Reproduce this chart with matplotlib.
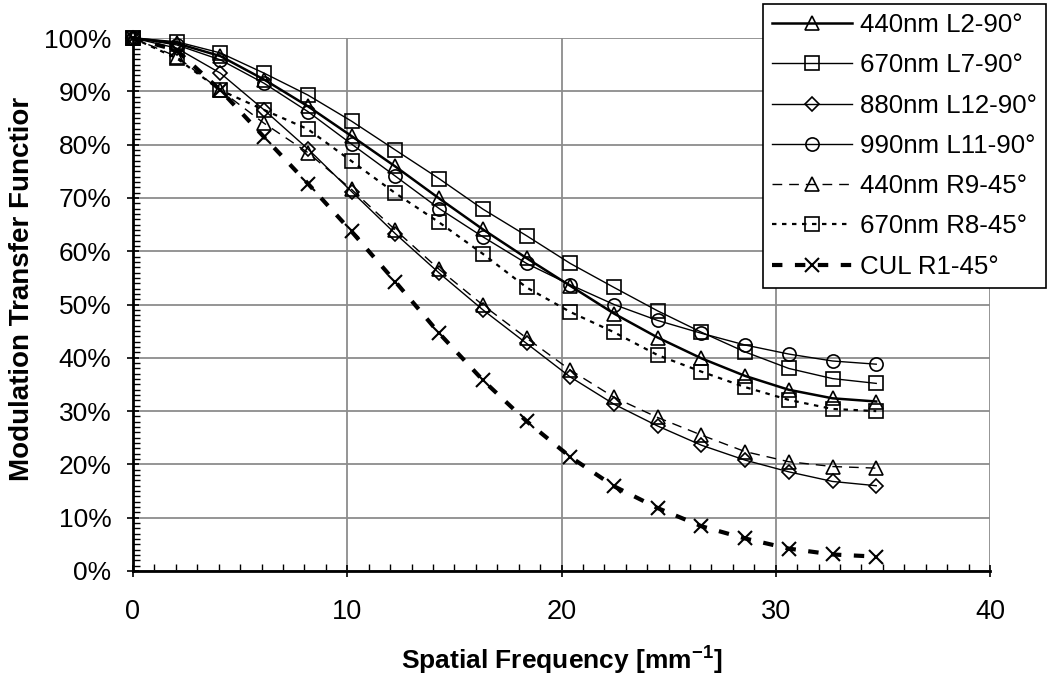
import numpy as np
import matplotlib
matplotlib.use("Agg")
from matplotlib import pyplot as plt
from matplotlib.ticker import MultipleLocator, PercentFormatter

plt.rcParams['font.family'] = ['Liberation Sans', 'DejaVu Sans']

# spatial frequency [1/mm]
freq = [0, 2.04, 4.08, 6.12, 8.16, 10.2, 12.24, 14.29, 16.33, 18.37,
        20.41, 22.45, 24.49, 26.53, 28.57, 30.61, 32.65, 34.69]

# MTF values in percent
mtf_440_L2 = [100, 99.0, 96.6, 92.2, 87.2, 81.6, 75.9, 69.9, 64.1, 58.7,
              53.5, 48.3, 43.8, 39.9, 36.6, 34.0, 32.4, 31.8]
mtf_670_L7 = [100, 99.3, 97.2, 93.4, 89.3, 84.4, 79.0, 73.6, 67.9, 62.9,
              57.7, 53.2, 48.8, 44.8, 41.1, 38.0, 36.1, 35.2]
mtf_880_L12 = [100, 98.1, 93.4, 86.5, 79.2, 71.2, 63.3, 55.9, 49.0, 42.7,
               36.4, 31.3, 27.2, 23.6, 20.8, 18.6, 16.8, 16.0]
mtf_990_L11 = [100, 98.7, 95.9, 91.5, 86.2, 80.1, 74.1, 68.0, 62.7, 57.7,
               53.7, 50.0, 47.0, 44.6, 42.4, 40.7, 39.4, 38.8]
mtf_440_R9 = [100, 96.5, 90.2, 84.0, 78.5, 71.6, 64.0, 56.6, 49.9, 43.7,
              37.7, 32.6, 28.8, 25.5, 22.4, 20.5, 19.6, 19.3]
mtf_670_R8 = [100, 96.2, 90.2, 86.5, 82.9, 76.9, 70.9, 65.4, 59.5, 53.2,
              48.6, 44.8, 40.5, 37.4, 34.5, 32.1, 30.4, 30.0]
mtf_cul_R1 = [100, 97.7, 90.2, 81.4, 72.7, 63.7, 54.3, 44.6, 35.8, 28.1,
              21.4, 15.9, 11.8, 8.4, 6.1, 4.2, 3.1, 2.7]

labels = ['440nm L2-90°', '670nm L7-90°', '880nm L12-90°', '990nm L11-90°',
          '440nm R9-45°', '670nm R8-45°', 'CUL R1-45°']

fig = plt.figure(figsize=(10.5, 6.76), dpi=100)
ax = fig.add_axes([133/1050, 1 - 571/676, (990-133)/1050, (571-38)/676])

common = dict(color='black', markerfacecolor='none', markeredgecolor='black',
              clip_on=False, zorder=3)
ax.plot(freq, mtf_440_L2, '-', marker='^', lw=1.8, ms=9.5, mew=1.2, label=labels[0], **common)
ax.plot(freq, mtf_670_L7, '-', marker='s', lw=1.0, ms=9.5, mew=1.2, label=labels[1], **common)
ax.plot(freq, mtf_880_L12, '-', marker='D', lw=1.0, ms=7.5, mew=1.2, label=labels[2], **common)
ax.plot(freq, mtf_990_L11, '-', marker='o', lw=1.0, ms=9.5, mew=1.2, label=labels[3], **common)
ax.plot(freq, mtf_440_R9, marker='^', lw=1.0, ms=9.5, mew=1.2, dashes=(7, 5),
        label=labels[4], **common)
ax.plot(freq, mtf_670_R8, marker='s', lw=1.6, ms=9.5, mew=1.2, dashes=(2, 2.5),
        label=labels[5], **common)
ax.plot(freq, mtf_cul_R1, marker='x', lw=3.0, ms=10, mew=1.5, dashes=(2.5, 3),
        label=labels[6], **common)

ax.set_xlim(0, 40)
ax.set_ylim(0, 100)
ax.xaxis.set_major_locator(MultipleLocator(10))
ax.xaxis.set_minor_locator(MultipleLocator(1))
ax.yaxis.set_major_locator(MultipleLocator(10))
ax.yaxis.set_minor_locator(MultipleLocator(1))
ax.yaxis.set_major_formatter(PercentFormatter(decimals=0))

ax.grid(True, which='major', color='#8c8c8c', lw=1.3)
ax.set_axisbelow(True)
for s in ['top', 'right']:
    ax.spines[s].set_visible(False)
for s in ['left', 'bottom']:
    ax.spines[s].set_linewidth(2)

ax.tick_params(which='major', direction='inout', length=9, width=1.2)
ax.tick_params(which='minor', direction='in', length=5, width=1)
ax.tick_params(axis='x', which='major', labelsize=19.5, pad=16)
ax.tick_params(axis='y', which='major', labelsize=19, pad=11)

ax.set_xlabel('Spatial Frequency [mm$^{\\mathregular{-1}}$]', fontsize=19,
              fontweight='bold')
ax.xaxis.set_label_coords(0.5, -0.135)
ax.set_ylabel('Modulation Transfer Functior', fontsize=20, fontweight='bold')
ax.yaxis.set_label_coords(-0.114, 0.53)

leg = fig.legend(loc='upper left', bbox_to_anchor=(763/1050, 1 - 4/676),
                 fontsize=18.6, frameon=True, fancybox=False, framealpha=1,
                 edgecolor='black', handlelength=3.1, handletextpad=0.3,
                 labelspacing=0.63, borderpad=0.35, borderaxespad=0)
leg.get_frame().set_linewidth(1.2)

fig.savefig('out.png', dpi=100)
